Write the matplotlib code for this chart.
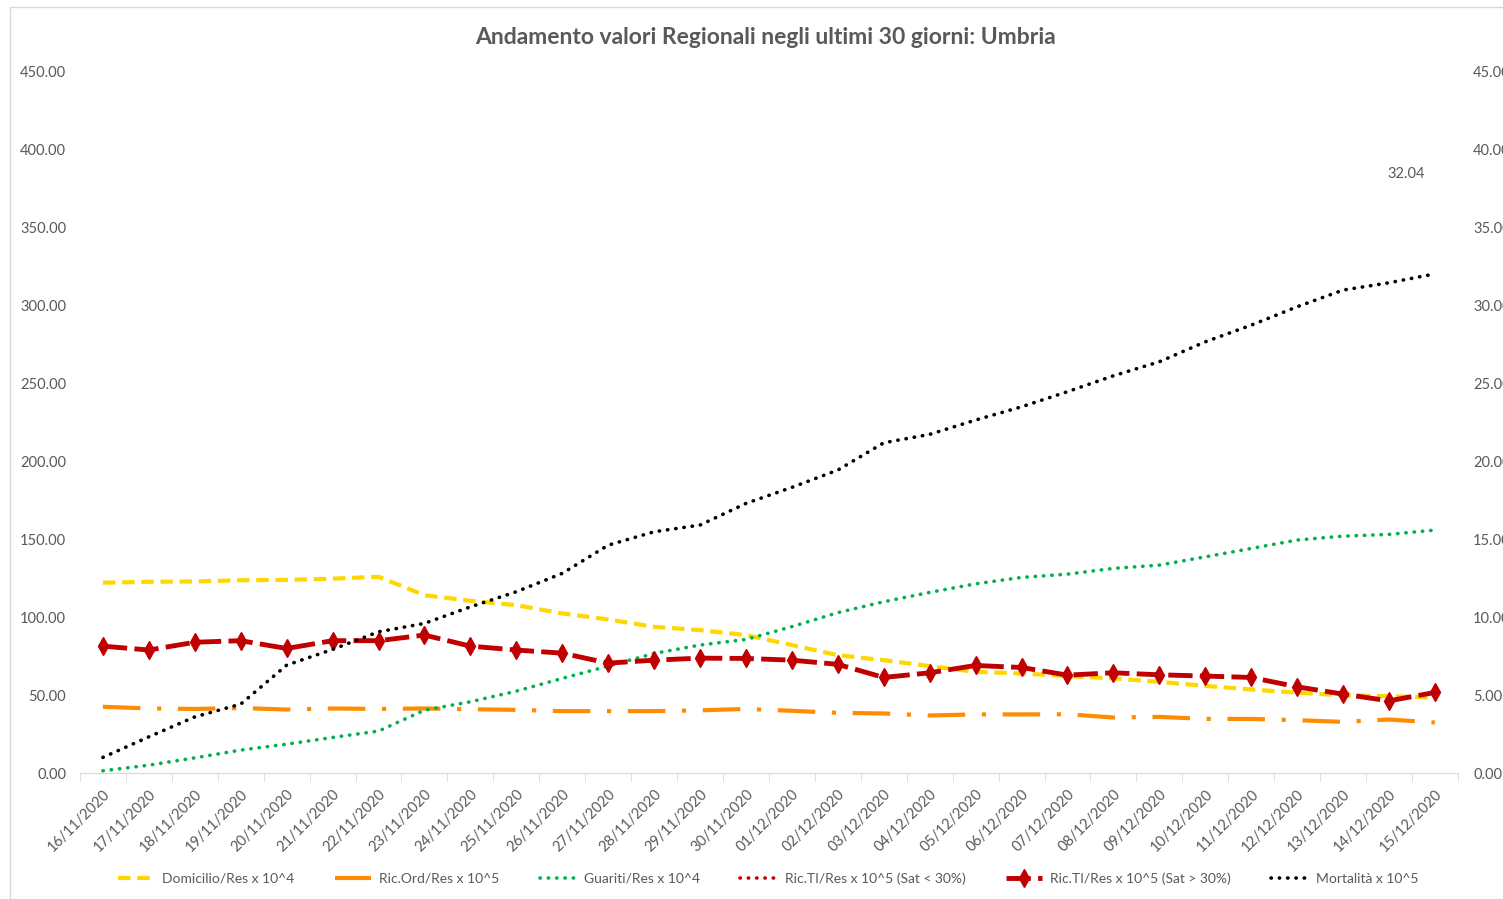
import numpy as np
import matplotlib
matplotlib.use("Agg")
import matplotlib.pyplot as plt
from matplotlib.patches import Rectangle

plt.rcParams["font.family"] = ["Lato", "DejaVu Sans"]

dates = ["16/11/2020", "17/11/2020", "18/11/2020", "19/11/2020", "20/11/2020", "21/11/2020",
         "22/11/2020", "23/11/2020", "24/11/2020", "25/11/2020", "26/11/2020", "27/11/2020",
         "28/11/2020", "29/11/2020", "30/11/2020", "01/12/2020", "02/12/2020", "03/12/2020",
         "04/12/2020", "05/12/2020", "06/12/2020", "07/12/2020", "08/12/2020", "09/12/2020",
         "10/12/2020", "11/12/2020", "12/12/2020", "13/12/2020", "14/12/2020", "15/12/2020"]

# left axis series
domicilio = [122.2, 122.8, 123.0, 123.8, 124.0, 124.8, 126.0, 114.2, 110.6, 107.8,
             102.5, 98.6, 93.9, 91.8, 88.6, 82.2, 75.7, 72.5, 68.7, 65.0,
             64.0, 62.3, 60.8, 58.6, 56.0, 53.7, 51.6, 50.0, 49.4, 48.6]
ric_ord = [42.6, 41.5, 41.2, 41.8, 40.8, 41.5, 41.2, 41.5, 41.0, 40.6,
           39.8, 39.8, 39.8, 40.3, 41.2, 40.0, 38.7, 38.3, 37.0, 37.7,
           37.7, 37.8, 35.7, 36.1, 34.8, 34.8, 34.0, 32.9, 34.4, 32.5]
guariti = [1.5, 5.1, 9.8, 14.8, 18.6, 22.9, 27.0, 40.4, 45.8, 52.6,
           60.8, 68.7, 76.8, 82.2, 85.8, 94.0, 103.0, 110.0, 116.0, 121.5,
           125.6, 127.7, 131.4, 133.5, 138.8, 144.2, 149.6, 152.1, 153.2, 156.0]

# right axis series
ric_ti_low = [np.nan] * 30
ric_ti_high = [8.15, 7.90, 8.40, 8.50, 8.00, 8.50, 8.50, 8.86, 8.15, 7.90,
               7.70, 7.06, 7.25, 7.38, 7.36, 7.25, 6.98, 6.14, 6.44, 6.91,
               6.78, 6.29, 6.44, 6.31, 6.23, 6.14, 5.54, 5.07, 4.64, 5.18]
mortalita = [1.01, 2.33, 3.61, 4.43, 6.93, 7.94, 9.07, 9.61, 10.67, 11.64,
             12.82, 14.63, 15.49, 15.92, 17.31, 18.34, 19.45, 21.20, 21.74, 22.66,
             23.51, 24.48, 25.50, 26.40, 27.68, 28.75, 29.93, 31.00, 31.47, 32.04]

grey = "#595959"
x = np.arange(len(dates))

fig = plt.figure(figsize=(15.03, 8.99), dpi=100)
ax = fig.add_axes([0.0532, 0.140, 0.9168, 0.780])
ax2 = ax.twinx()

l1, = ax.plot(x, domicilio, color="#FFD700", lw=3, linestyle=(0, (3, 1.6)),
              label="Domicilio/Res x 10^4")
l2, = ax.plot(x, ric_ord, color="#FF8C00", lw=3, linestyle=(0, (9, 4, 1, 4)),
              label="Ric.Ord/Res x 10^5")
l3, = ax.plot(x, guariti, color="#00B050", lw=2.6, linestyle=(0, (0.1, 2.2)),
              dash_capstyle="round", label="Guariti/Res x 10^4")
l4, = ax2.plot(x, ric_ti_low, color="#C00000", lw=2.6, linestyle=(0, (0.1, 2.2)),
               dash_capstyle="round", label="Ric.TI/Res x 10^5 (Sat < 30%)")
l5, = ax2.plot(x, ric_ti_high, color="#C00000", lw=3.5, linestyle=(0, (5, 1.5)),
               marker="d", markersize=9, label="Ric.TI/Res x 10^5 (Sat > 30%)")
l6, = ax2.plot(x, mortalita, color="black", lw=2.6, linestyle=(0, (0.1, 2.2)),
               dash_capstyle="round", label="Mortalità x 10^5")

ax2.annotate(f"{mortalita[-1]:.2f}", (x[-1], mortalita[-1]), xytext=(-29, 100),
             textcoords="offset pixels", ha="center", va="center",
             fontsize=10.5, color=grey)

ax.set_xlim(-0.5, len(dates) - 0.5)
ax.set_ylim(0, 450)
ax2.set_ylim(0, 45)
ax.set_yticks(np.arange(0, 451, 50))
ax2.set_yticks(np.arange(0, 46, 5))
ax.yaxis.set_major_formatter(matplotlib.ticker.FormatStrFormatter("%.2f"))
ax2.yaxis.set_major_formatter(matplotlib.ticker.FormatStrFormatter("%.2f"))

ax.set_xticks(x)
ax.set_xticklabels(dates, rotation=45, ha="right", rotation_mode="anchor",
                   fontsize=10.5, color=grey)
ax.set_xticks(np.arange(-0.5, len(dates), 1), minor=True)
ax.tick_params(axis="x", which="major", length=0, pad=10)
ax.tick_params(axis="x", which="minor", length=6, color="#d9d9d9")
ax.tick_params(axis="y", length=0, labelsize=10.5, labelcolor=grey, pad=10)
ax2.tick_params(axis="y", length=0, labelsize=10.5, labelcolor=grey, pad=11)

for a in (ax, ax2):
    for side in ("left", "right", "top"):
        a.spines[side].set_visible(False)
    a.spines["bottom"].set_color("#d9d9d9")

fig.text(0.509, 0.958, "Andamento valori Regionali negli ultimi 30 giorni: Umbria",
         ha="center", va="center", fontsize=16.5, fontweight="bold", color=grey)

fig.legend(handles=[l1, l2, l3, l4, l5, l6], loc="center", bbox_to_anchor=(0.511, 0.023),
           ncol=6, frameon=False, fontsize=10, labelcolor=grey,
           handlelength=2.6, handletextpad=0.6, columnspacing=2.9)

fig.patches.append(Rectangle((0.0067, -0.01), 1.2, 1.002, transform=fig.transFigure,
                             fill=False, edgecolor="#d9d9d9", lw=1))

fig.savefig("out.png", dpi=100)
